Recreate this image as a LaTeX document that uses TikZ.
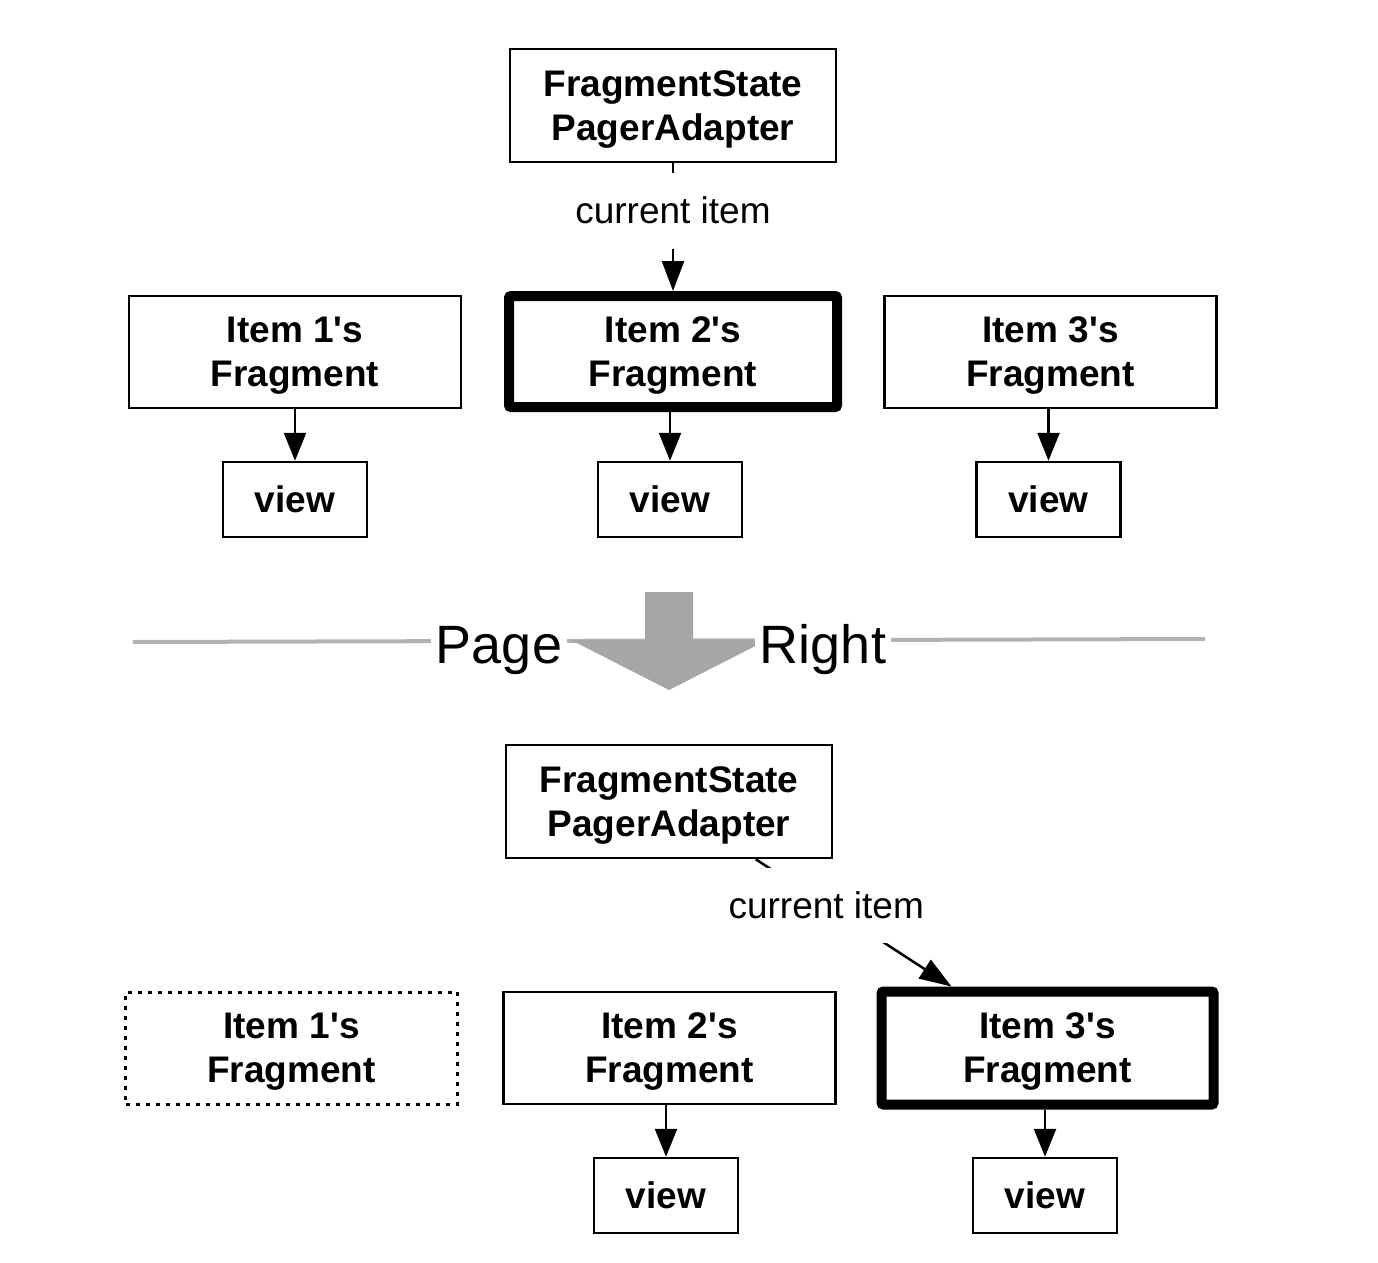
\documentclass[tikz,border=0pt]{standalone}
\usepackage{fontspec}
\setmainfont{Liberation Sans}[Ligatures=TeXOff]
\usetikzlibrary{arrows.meta}
\begin{document}
\begin{tikzpicture}[x=1pt,y=-1pt,
  box/.style={draw, line width=2.5pt, inner sep=0pt, align=center, text depth=0pt,
    font=\bfseries\fontsize{37}{44}\selectfont},
  frag/.style={box, minimum width=332pt, minimum height=112pt},
  adapter/.style={box, minimum width=326pt, minimum height=113pt},
  viewbox/.style={box, minimum width=144pt, minimum height=75pt},
  current/.style={line width=10pt, rounded corners=2pt},
  gone/.style={dash pattern=on 4pt off 6pt, line width=3pt},
  arr/.style={draw, line width=2.5pt, -{Triangle[length=28pt,width=22pt]}},
  lbl/.style={fill=white, font=\fontsize{37}{44}\selectfont, inner xsep=4pt, inner ysep=0pt},
  seplbl/.style={fill=white, font=\fontsize{54}{60}\selectfont, inner xsep=5pt, inner ysep=2pt, anchor=base},
  sepline/.style={draw=black!30, line width=4pt},
  bigarrow/.style={fill=black!35}
]
\fill[white] (0,0) rectangle (1378,1262);
\useasboundingbox (0,0) rectangle (1378,1262);

% ---------- top state ----------
\node[adapter] (adT) at (673,105.5) {FragmentState\\PagerAdapter};
\node[frag] (f1T) at (295,352) {Item 1's\\Fragment};
\node[frag, current, minimum width=328pt, minimum height=111pt] (f2T) at (673,351.5) {Item 2's\\Fragment};
\node[frag] (f3T) at (1050.5,352) {Item 3's\\Fragment};
\node[viewbox] (v1T) at (295,499.5) {view};
\node[viewbox] (v2T) at (670,499.5) {view};
\node[viewbox] (v3T) at (1048.5,499.5) {view};

\draw[arr, -{Triangle[length=30pt,width=22pt]}] (adT.south) -- node[lbl, pos=0.37, minimum height=76pt] (curT) {current item} (f2T.north);
\draw[arr] (v1T.north |- f1T.south) -- (v1T.north);
\draw[arr] (v2T.north |- f2T.south) -- (v2T.north);
\draw[arr] (v3T.north |- f3T.south) -- (v3T.north);

% ---------- separator ----------
\draw[sepline] (133,642) -- (1205,639);
\fill[bigarrow] (645,592) -- (693,592) -- (693,640) -- (767,640) -- (669,690) -- (571,640) -- (645,640) -- cycle;
\node[seplbl] (page) at (499,663) {Page};
\node[seplbl] (right) at (823,663) {Right};

% ---------- bottom state ----------
\node[adapter] (adB) at (669,801.5) {FragmentState\\PagerAdapter};
\node[frag, gone] (f1B) at (291.5,1048) {Item 1's\\Fragment};
\node[frag] (f2B) at (669.5,1048) {Item 2's\\Fragment};
\node[frag, current, minimum height=113pt] (f3B) at (1047.5,1048) {Item 3's\\Fragment};
\node[viewbox] (v2B) at (666,1195.5) {view};
\node[viewbox] (v3B) at (1045,1195.5) {view};

\draw[arr, -{Triangle[length=32pt,width=22pt]}] ([xshift=251pt]adB.south west) -- node[lbl, pos=0.36, minimum height=75pt] (curB) {current item} ([xshift=75pt]f3B.north west);
\draw[arr] (v2B.north |- f2B.south) -- (v2B.north);
\draw[arr] (v3B.north |- f3B.south) -- (v3B.north);
\end{tikzpicture}
\end{document}
